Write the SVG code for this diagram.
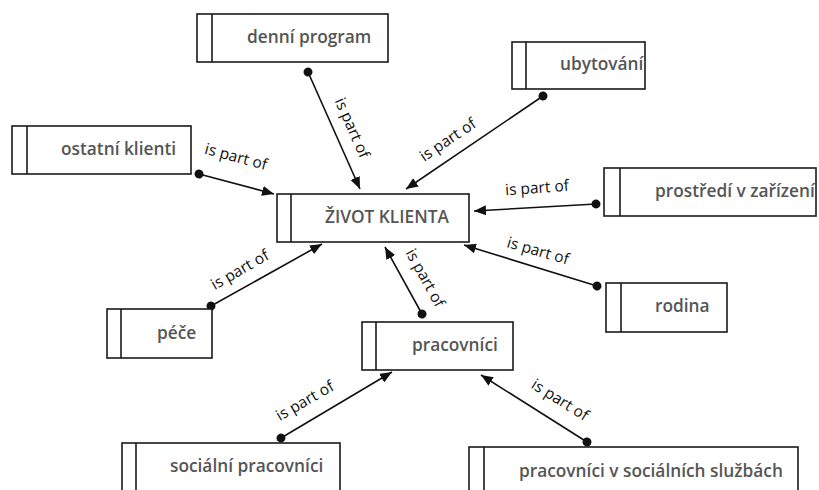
<svg xmlns="http://www.w3.org/2000/svg" width="819" height="490" viewBox="0 0 819 490">
<style>
.box{fill:#fff;stroke:#1a1a1a;stroke-width:1.6}
.div{stroke:#1a1a1a;stroke-width:1.6}
.nt{font-family:"Open Sans","Noto Sans","DejaVu Sans",sans-serif;font-weight:600;font-size:17.3px;fill:#555}
.lbl{font-family:"Open Sans","Noto Sans","DejaVu Sans",sans-serif;font-size:15.5px;fill:#111;text-anchor:middle}
.edge{fill:none;stroke:#111;stroke-width:1.6;marker-start:url(#dot);marker-end:url(#arr)}
</style>
<defs>
<marker id="arr" viewBox="0 0 12 10" refX="12" refY="5" markerWidth="12" markerHeight="10" markerUnits="userSpaceOnUse" orient="auto"><path d="M0,0 L12,5 L0,10 z" fill="#111"/></marker>
<marker id="dot" viewBox="0 0 10 10" refX="5" refY="5" markerWidth="10" markerHeight="10" markerUnits="userSpaceOnUse" orient="auto"><circle cx="5" cy="5" r="4.5" fill="#111"/></marker>
</defs>
<rect width="819" height="490" fill="#fff"/>
<g id="connectors">
<g id="e1"><line class="edge" x1="308" y1="72" x2="360" y2="189"/><text class="lbl" transform="translate(352,128) rotate(66)" y="5">is part of</text></g>
<g id="e2"><line class="edge" x1="543" y1="96" x2="406" y2="189"/><text class="lbl" transform="translate(448,140) rotate(-34)" y="5">is part of</text></g>
<g id="e3"><line class="edge" x1="199" y1="174" x2="274" y2="194"/><text class="lbl" transform="translate(236,157) rotate(15)" y="5">is part of</text></g>
<g id="e4"><line class="edge" x1="596" y1="204" x2="474" y2="211"/><text class="lbl" transform="translate(537,188) rotate(-4)" y="5">is part of</text></g>
<g id="e5"><line class="edge" x1="597" y1="286" x2="464" y2="245"/><text class="lbl" transform="translate(538,251) rotate(16)" y="5">is part of</text></g>
<g id="e6"><line class="edge" x1="211" y1="306" x2="322" y2="244"/><text class="lbl" transform="translate(240,270) rotate(-30)" y="5">is part of</text></g>
<g id="e7"><line class="edge" x1="422" y1="314" x2="385" y2="247"/><text class="lbl" transform="translate(425,278) rotate(61)" y="5">is part of</text></g>
<g id="e8"><line class="edge" x1="281" y1="438" x2="392" y2="372"/><text class="lbl" transform="translate(305,401) rotate(-30)" y="5">is part of</text></g>
<g id="e9"><line class="edge" x1="587" y1="442" x2="481" y2="375"/><text class="lbl" transform="translate(560,400) rotate(32)" y="5">is part of</text></g>
</g>
<g id="n-denni"><rect class="box" x="197" y="14" width="191" height="48"/><line class="div" x1="212" y1="14" x2="212" y2="62"/><text class="nt" x="247" y="43">denní program</text></g>
<g id="n-ubytovani"><rect class="box" x="512" y="42" width="133" height="47"/><line class="div" x1="526" y1="42" x2="526" y2="89"/><text class="nt" x="560" y="70">ubytování</text></g>
<g id="n-ostatni"><rect class="box" x="12" y="126" width="179" height="48"/><line class="div" x1="27" y1="126" x2="27" y2="174"/><text class="nt" x="61" y="155">ostatní klienti</text></g>
<g id="n-zivot"><rect class="box" x="277" y="194" width="192" height="48"/><line class="div" x1="291" y1="194" x2="291" y2="242"/><text class="nt" x="325" y="223">ŽIVOT KLIENTA</text></g>
<g id="n-prostredi"><rect class="box" x="604" y="168" width="212" height="48"/><line class="div" x1="620" y1="168" x2="620" y2="216"/><text class="nt" x="655" y="197">prostředí v zařízení</text></g>
<g id="n-rodina"><rect class="box" x="606" y="283" width="121" height="49"/><line class="div" x1="621" y1="283" x2="621" y2="332"/><text class="nt" x="655" y="312">rodina</text></g>
<g id="n-pece"><rect class="box" x="107" y="309" width="105" height="49"/><line class="div" x1="121" y1="309" x2="121" y2="358"/><text class="nt" x="157" y="339">péče</text></g>
<g id="n-pracovnici"><rect class="box" x="362" y="322" width="151" height="48"/><line class="div" x1="376" y1="322" x2="376" y2="370"/><text class="nt" x="412" y="351">pracovníci</text></g>
<g id="n-socialni"><rect class="box" x="122" y="443" width="218" height="48"/><line class="div" x1="136" y1="443" x2="136" y2="491"/><text class="nt" x="170" y="472">sociální pracovníci</text></g>
<g id="n-pvss"><rect class="box" x="469" y="447" width="329" height="48"/><line class="div" x1="484" y1="447" x2="484" y2="495"/><text class="nt" x="519" y="477">pracovníci v sociálních službách</text></g>
</svg>
